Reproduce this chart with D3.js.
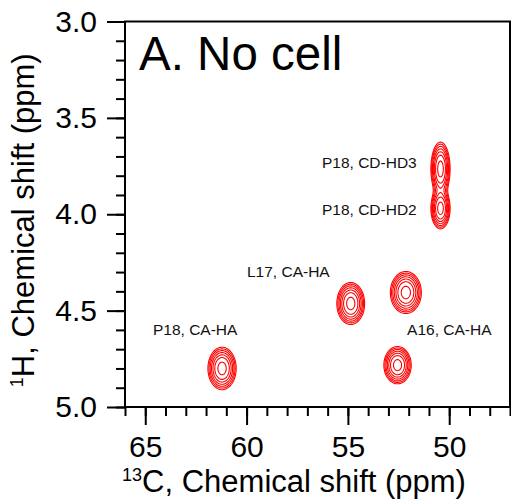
<!DOCTYPE html>
<html>
<head>
<meta charset="utf-8">
<script src="https://cdn.jsdelivr.net/npm/d3@7"></script>
<style>
  body { margin: 0; background: #fff; }
  svg { display: block; font-family: "Liberation Sans", Arial, sans-serif; }
  .axis path, .axis line { stroke: #000; stroke-width: 2; }
  .axis text { font-size: 30px; fill: #000; }
  .peak-label { font-size: 15.5px; fill: #111; }
</style>
</head>
<body>
<svg id="chart"></svg>
<script>
// peaks of the 13C-1H spectrum (ppm) and their line widths (ppm, gaussian sigma)
const peakC = [50.43, 50.43, 54.86, 52.14, 52.55, 61.21];
const peakH = [3.765, 3.97, 4.463, 4.406, 4.783, 4.80];
const sigmaC = [0.21, 0.21, 0.305, 0.34, 0.30, 0.31];
const sigmaH = [0.062, 0.047, 0.0485, 0.0485, 0.043, 0.049];
const peakAmp = [1, 1, 1, 1, 1, 1];

// contour levels (relative intensity)
const levels = [0.08, 0.116, 0.168, 0.244, 0.354, 0.513, 0.80];

// peak assignments
const labelText = ["P18, CD-HD3", "P18, CD-HD2", "L17, CA-HA", "P18, CA-HA", "A16, CA-HA"];
const labelC = [56.28, 56.28, 59.98, 64.62, 52.08];
const labelH = [3.761, 4.005, 4.327, 4.628, 4.628];

const xMajor = [65, 60, 55, 50];
const yMajor = [3.0, 3.5, 4.0, 4.5, 5.0];

const W = 511, H = 499;
const margin = { top: 21.5, right: 1, bottom: 92, left: 125 };
const width = W - margin.left - margin.right;
const height = H - margin.top - margin.bottom;

const svg = d3.select("#chart").attr("width", W).attr("height", H);
const g = svg.append("g").attr("transform", "translate(" + margin.left + "," + margin.top + ")");

const x = d3.scaleLinear().domain([66, 47]).range([0, width]);
const y = d3.scaleLinear().domain([3, 5]).range([0, height]);

// build spectrum grid, 1 cell per pixel
const nx = Math.round(width), ny = Math.round(height);
const values = new Float64Array(nx * ny);
for (let j = 0; j < ny; j++) {
    const h = y.invert(j + 0.5);
    for (let i = 0; i < nx; i++) {
        const c = x.invert(i + 0.5);
        let v = 0;
        for (let k = 0; k < peakC.length; k++) {
            const dc = (c - peakC[k]) / sigmaC[k];
            const dh = (h - peakH[k]) / sigmaH[k];
            v += peakAmp[k] * Math.exp(-0.5 * (dc * dc + dh * dh));
        }
        values[j * nx + i] = v;
    }
}

const contours = d3.contours().size([nx, ny]).thresholds(levels)(values);

g.append("clipPath").attr("id", "clip")
    .append("rect").attr("width", width).attr("height", height);

g.append("g")
    .attr("clip-path", "url(#clip)")
    .selectAll("path")
    .data(contours)
    .enter()
    .append("path")
    .attr("d", d3.geoPath())
    .attr("fill", "none")
    .attr("stroke", "#ff0000")
    .attr("stroke-width", 1.1);

// frame
g.append("rect")
    .attr("width", width).attr("height", height)
    .attr("fill", "none").attr("stroke", "#000").attr("stroke-width", 2);

// minor ticks
g.append("g").attr("class", "axis")
    .attr("transform", "translate(0," + height + ")")
    .call(d3.axisBottom(x).tickValues(d3.range(47, 67, 1)).tickSize(9).tickFormat(""))
    .select(".domain").remove();
g.append("g").attr("class", "axis")
    .call(d3.axisLeft(y).tickValues(d3.range(30, 51, 1).map(d => d / 10)).tickSize(9).tickFormat(""))
    .select(".domain").remove();

// major ticks
g.append("g").attr("class", "axis")
    .attr("transform", "translate(0," + height + ")")
    .call(d3.axisBottom(x).tickValues(xMajor).tickSize(18).tickPadding(11).tickFormat(d3.format("d")))
    .select(".domain").remove();
g.append("g").attr("class", "axis")
    .call(d3.axisLeft(y).tickValues(yMajor).tickSize(18).tickPadding(10).tickFormat(d3.format(".1f")))
    .select(".domain").remove();

// peak labels
g.selectAll(".peak-label")
    .data(labelText)
    .enter()
    .append("text")
    .attr("class", "peak-label")
    .attr("x", (d, i) => x(labelC[i]))
    .attr("y", (d, i) => y(labelH[i]))
    .text(d => d);

// panel title
svg.append("text")
    .attr("x", 139).attr("y", 70)
    .attr("font-size", 47.5)
    .text("A. No cell");

// axis titles
const xt = svg.append("text")
    .attr("x", 294).attr("y", 492)
    .attr("text-anchor", "middle")
    .attr("font-size", 31);
xt.append("tspan").attr("font-size", 18).attr("dy", -11).text("13");
xt.append("tspan").attr("dy", 11).text("C, Chemical shift (ppm)");

const yt = svg.append("text")
    .attr("transform", "translate(34," + (margin.top + height / 2 + 6) + ") rotate(-90)")
    .attr("text-anchor", "middle")
    .attr("font-size", 31);
yt.append("tspan").attr("font-size", 18).attr("dy", -11).text("1");
yt.append("tspan").attr("dy", 11).text("H, Chemical shift (ppm)");
</script>
</body>
</html>
